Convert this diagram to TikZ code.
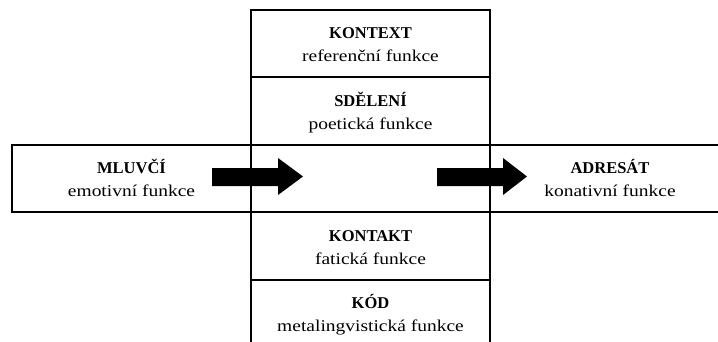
\documentclass[tikz,border=0pt]{standalone}
\usepackage{fontspec}
\setmainfont{Liberation Serif}
\newfontfamily\widefont[FakeStretch=1.18]{Liberation Serif}
\newcommand{\celltext}[2]{\begin{tabular}[t]{@{}c@{}}\textbf{#1}\\{\widefont #2}\end{tabular}}
\tikzset{
  celllabel/.style={font=\fontsize{16.5}{23}\selectfont, anchor=base, inner sep=0pt},
  frame/.style={line width=1.6pt},
  blockarrow/.style={fill=black}
}
\begin{document}
\begin{tikzpicture}[x=1pt,y=-1pt]
\useasboundingbox (0,0) rectangle (718,341);
\clip (0,0) rectangle (718,341);
% column
\draw[frame] (251,350) -- (251,10) -- (490,10) -- (490,350);
\draw[frame] (251,77) -- (490,77);
\draw[frame] (251,280) -- (490,280);
% horizontal band
\draw[frame] (12,145) rectangle (740,212);
% arrows
\fill[blockarrow] (212,168) -- (278,168) -- (278,158) -- (303,176.5) -- (278,195) -- (278,186) -- (212,186) -- cycle;
\fill[blockarrow] (437,168) -- (503,168) -- (503,158) -- (527,176.5) -- (503,195) -- (503,186) -- (437,186) -- cycle;
% labels
\node[celllabel] (kontext) at (370.5,38.5) {\celltext{KONTEXT}{referenční funkce}};
\node[celllabel] (sdeleni) at (370.5,106) {\celltext{SDĚLENÍ}{poetická funkce}};
\node[celllabel] (mluvci) at (131.5,173.5) {\celltext{MLUVČÍ}{emotivní funkce}};
\node[celllabel] (adresat) at (610,173.5) {\celltext{ADRESÁT}{konativní funkce}};
\node[celllabel] (kontakt) at (370.5,241) {\celltext{KONTAKT}{fatická funkce}};
\node[celllabel] (kod) at (370.5,308.5) {\celltext{KÓD}{metalingvistická funkce}};
\end{tikzpicture}
\end{document}
